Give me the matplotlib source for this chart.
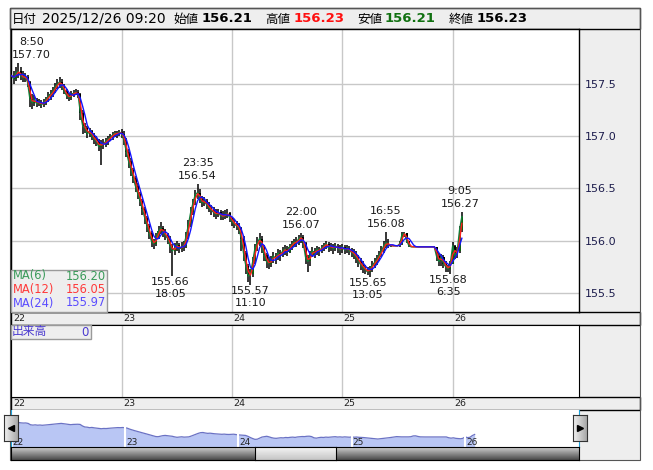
import numpy as np
import pandas as pd
import matplotlib
matplotlib.use("Agg")
import matplotlib.pyplot as plt
from matplotlib.patches import Rectangle
from matplotlib.colors import LinearSegmentedColormap
from matplotlib.transforms import blended_transform_factory

plt.rcParams['font.family'] = ['DejaVu Sans', 'Noto Sans CJK JP']

W, H = 653, 470

# ==========================
# Data: USD/JPY 30-minute bars, start 2025/12/22 07:00
# open = previous close
# ==========================
first_open = 157.60

highs = [
    # 22
    157.64, 157.62, 157.66, 157.70, 157.66, 157.62, 157.61, 157.59, 157.53, 157.40,
    157.39, 157.37, 157.36, 157.35, 157.36, 157.38, 157.42, 157.44, 157.47, 157.51,
    157.55, 157.57, 157.55, 157.50, 157.45, 157.41, 157.43, 157.44, 157.45, 157.44,
    157.41, 157.25, 157.13, 157.10, 157.08, 157.06, 157.03, 157.00, 156.97, 156.96,
    156.97, 156.98, 157.00, 157.02, 157.04, 157.05, 157.05, 157.06,
    # 23
    157.07, 157.05, 156.98, 156.88, 156.79, 156.70, 156.62, 156.55, 156.47, 156.40,
    156.32, 156.24, 156.16, 156.09, 156.02, 156.07, 156.14, 156.18, 156.14, 156.11,
    156.07, 156.04, 155.97, 155.98, 156.00, 155.98, 155.99, 156.00, 156.08, 156.20,
    156.32, 156.40, 156.48, 156.54, 156.49, 156.43, 156.42, 156.40, 156.37, 156.34,
    156.32, 156.30, 156.30, 156.29, 156.28, 156.29, 156.30, 156.27,
    # 24
    156.23, 156.21, 156.19, 156.17, 156.13, 156.04, 155.90, 155.78, 155.73, 155.84,
    155.97, 156.03, 156.07, 156.04, 155.96, 155.88, 155.84, 155.85, 155.89, 155.88,
    155.92, 155.91, 155.94, 155.96, 155.95, 155.97, 156.00, 156.02, 156.03, 156.05,
    156.07, 156.05, 155.99, 155.86, 155.90, 155.94, 155.93, 155.95, 155.94, 155.96,
    155.98, 156.00, 155.99, 155.98, 155.97, 155.98, 155.97, 155.96,
    # 25
    155.97, 155.96, 155.96, 155.95, 155.93, 155.92, 155.90, 155.86, 155.83, 155.80,
    155.77, 155.75, 155.76, 155.80, 155.83, 155.86, 155.90, 155.95, 156.00, 156.08,
    156.02, 155.96, 155.95, 155.95, 155.95, 156.00, 156.08, 156.08, 156.07, 156.00,
    155.94, 155.94, 155.94, 155.94, 155.94, 155.94, 155.94, 155.94, 155.94, 155.94,
    155.94, 155.94, 155.88, 155.87, 155.86, 155.80, 155.77, 155.80,
    # 26
    155.99, 155.96, 155.94, 156.14, 156.27,
]

lows = [
    # 22
    157.52, 157.50, 157.53, 157.56, 157.54, 157.52, 157.52, 157.47, 157.28, 157.26,
    157.29, 157.28, 157.29, 157.27, 157.28, 157.30, 157.33, 157.35, 157.38, 157.41,
    157.45, 157.46, 157.44, 157.40, 157.36, 157.34, 157.35, 157.38, 157.39, 157.37,
    157.16, 157.02, 157.03, 156.98, 156.99, 156.96, 156.93, 156.91, 156.86, 156.72,
    156.88, 156.90, 156.92, 156.95, 156.96, 156.99, 156.98, 157.00,
    # 23
    156.98, 156.92, 156.80, 156.70, 156.62, 156.55, 156.47, 156.40, 156.33, 156.25,
    156.16, 156.08, 156.02, 155.94, 155.92, 155.95, 156.02, 156.06, 156.03, 156.01,
    155.97, 155.88, 155.66, 155.86, 155.90, 155.88, 155.89, 155.90, 155.93, 156.02,
    156.13, 156.25, 156.34, 156.40, 156.36, 156.32, 156.33, 156.30, 156.27, 156.25,
    156.23, 156.21, 156.23, 156.20, 156.20, 156.21, 156.22, 156.18,
    # 24
    156.14, 156.12, 156.10, 156.06, 155.90, 155.80, 155.68, 155.60, 155.57, 155.65,
    155.78, 155.90, 155.95, 155.88, 155.80, 155.74, 155.73, 155.75, 155.79, 155.78,
    155.81, 155.80, 155.84, 155.86, 155.85, 155.88, 155.91, 155.94, 155.94, 155.96,
    155.98, 155.93, 155.78, 155.70, 155.76, 155.84, 155.83, 155.86, 155.85, 155.88,
    155.90, 155.92, 155.89, 155.90, 155.87, 155.90, 155.88, 155.86,
    # 25
    155.88, 155.87, 155.88, 155.86, 155.84, 155.82, 155.79, 155.75, 155.72, 155.69,
    155.68, 155.67, 155.65, 155.70, 155.74, 155.77, 155.80, 155.84, 155.88, 155.93,
    155.93, 155.94, 155.95, 155.95, 155.95, 155.94, 155.96, 156.03, 155.98, 155.94,
    155.94, 155.94, 155.94, 155.94, 155.94, 155.94, 155.94, 155.94, 155.94, 155.94,
    155.94, 155.80, 155.76, 155.76, 155.74, 155.70, 155.70, 155.68,
    # 26
    155.78, 155.82, 155.83, 155.88, 156.08,
]

closes = [
    # 22
    157.58, 157.55, 157.61, 157.62, 157.58, 157.56, 157.57, 157.52, 157.36, 157.32,
    157.35, 157.31, 157.33, 157.30, 157.32, 157.35, 157.38, 157.40, 157.43, 157.47,
    157.50, 157.52, 157.48, 157.43, 157.39, 157.37, 157.40, 157.41, 157.42, 157.40,
    157.22, 157.10, 157.08, 157.02, 157.05, 157.00, 156.97, 156.95, 156.90, 156.93,
    156.92, 156.95, 156.97, 156.99, 157.01, 157.03, 157.02, 157.04,
    # 23
    157.02, 156.96, 156.85, 156.76, 156.68, 156.60, 156.52, 156.45, 156.38, 156.30,
    156.22, 156.14, 156.07, 155.99, 155.97, 156.03, 156.09, 156.12, 156.08, 156.05,
    156.02, 155.95, 155.90, 155.93, 155.96, 155.92, 155.94, 155.95, 156.04, 156.15,
    156.27, 156.36, 156.44, 156.46, 156.40, 156.36, 156.38, 156.34, 156.31, 156.29,
    156.27, 156.25, 156.27, 156.24, 156.23, 156.25, 156.26, 156.22,
    # 24
    156.18, 156.16, 156.14, 156.12, 156.02, 155.88, 155.76, 155.66, 155.68, 155.80,
    155.93, 155.98, 156.02, 155.95, 155.86, 155.80, 155.78, 155.81, 155.85, 155.83,
    155.88, 155.86, 155.90, 155.92, 155.89, 155.94, 155.96, 155.99, 155.98, 156.02,
    156.03, 155.98, 155.84, 155.80, 155.86, 155.90, 155.88, 155.92, 155.90, 155.93,
    155.95, 155.97, 155.93, 155.95, 155.92, 155.95, 155.93, 155.91,
    # 25
    155.94, 155.91, 155.93, 155.90, 155.89, 155.87, 155.84, 155.80, 155.77, 155.74,
    155.72, 155.70, 155.73, 155.76, 155.79, 155.82, 155.86, 155.90, 155.95, 155.98,
    155.96, 155.95, 155.95, 155.95, 155.95, 155.97, 156.06, 156.07, 156.00, 155.95,
    155.94, 155.94, 155.94, 155.94, 155.94, 155.94, 155.94, 155.94, 155.94, 155.94,
    155.94, 155.85, 155.80, 155.84, 155.78, 155.75, 155.73, 155.78,
    # 26
    155.95, 155.86, 155.90, 156.10, 156.23,
]

day_labels = ["22", "23", "24", "25", "26"]
day_start = [0, 48, 96, 144, 192]      # bar index of 07:00 each day
price_ticks = [155.5, 156.0, 156.5, 157.0, 157.5]

ma_periods = [6, 12, 24]               # in 5-minute bars
ma_names = ["MA(6)", "MA(12)", "MA(24)"]
ma_last = ["156.20", "156.05", "155.97"]
ma_colors = ["#12803a", "#ff1e1e", "#1414ff"]
ma_text_colors = ["#3a9a5a", "#ff3a3a", "#5a4cff"]

# highs / lows marked on the chart: bar, price, time, side
peak_bar = [3, 81, 70, 104, 126, 156, 163, 191, 196]
peak_price = [157.70, 156.54, 155.66, 155.57, 156.07, 155.65, 156.08, 155.68, 156.27]
peak_time = ["8:50", "23:35", "18:05", "11:10", "22:00", "13:05", "16:55", "6:35", "9:05"]
peak_side = [1, 1, -1, -1, 1, -1, 1, -1, 1]
peak_dx = [13, 0, -2, 0, 0, -2, 0, -2, -2]   # px, keeps labels inside

header_labels = ["日付", "始値", "高値", "安値", "終値"]
header_date = "2025/12/26 09:20"
header_values = ["156.21", "156.23", "156.21", "156.23"]
header_colors = ["black", "#ff1010", "#107010", "black"]

volume_label = "出来高"
volume_value = "0"

# ==========================
# helpers (pixel layout)
# ==========================
fig = plt.figure(figsize=(W / 100, H / 100), dpi=100)
fig.patch.set_facecolor("white")


def ax_px(x0, y0, x1, y1):
    return fig.add_axes([x0 / W, 1 - y1 / H, (x1 - x0) / W, (y1 - y0) / H])


def rect_px(x0, y0, x1, y1, **kw):
    r = Rectangle((x0 / W, 1 - y1 / H), (x1 - x0) / W, (y1 - y0) / H,
                  transform=fig.transFigure, **kw)
    fig.add_artist(r)
    return r


def text_px(x, y, s, **kw):
    return fig.text(x / W, 1 - y / H, s, **kw)


def gradient(ax, c0, c1, horizontal=False):
    g = np.linspace(0, 1, 32)
    g = g.reshape(1, -1) if horizontal else g.reshape(-1, 1)
    cmap = LinearSegmentedColormap.from_list("g", [c0, c1])
    ax.imshow(g, cmap=cmap, aspect="auto", extent=[0, 1, 0, 1])
    ax.set_xticks([])
    ax.set_yticks([])


PX_BAR = 110.3 / 48
X_LEFT = -0.2
xlim = (X_LEFT, X_LEFT + 568 / PX_BAR)

# ==========================
# backgrounds / frame
# ==========================
rect_px(579, 29, 640, 460, fc="#eeeeee", ec="none", zorder=-2)
rect_px(10, 8, 640, 29, fc="#eeeeee", ec="black", lw=1, zorder=-1)
rect_px(11, 312, 640, 325, fc="#eeeeee", ec="black", lw=1, zorder=-1)
rect_px(11, 397, 640, 410, fc="#eeeeee", ec="black", lw=1, zorder=-1)
rect_px(10, 8, 640, 460, fc="none", ec="#555555", lw=0.8, zorder=-1)

# header
lab_x = [12, 173, 265, 357, 449]
val_x = [202, 294, 385, 477]
for s, x in zip(header_labels, lab_x):
    text_px(x, 19, s, fontsize=9, va="center", ha="left")
text_px(42, 19, header_date, fontsize=10, va="center", ha="left")
for s, x, c in zip(header_values, val_x, header_colors):
    text_px(x, 19, s, fontsize=9.5, fontweight="bold", color=c, va="center", ha="left")

# ==========================
# main price panel
# ==========================
n = len(closes)
idx = np.arange(n)
c = np.array(closes)
o = np.concatenate([[first_open], c[:-1]])
hi = np.array(highs)
lo = np.array(lows)

ax = ax_px(11, 29, 579, 312)
ax.set_xlim(*xlim)
ax.set_ylim(155.316, 158.027)
ax.set_xticks(day_start)
ax.set_yticks(price_ticks)
ax.grid(True, color="#c8c8c8", lw=1)
ax.set_axisbelow(True)
ax.yaxis.tick_right()
ax.tick_params(length=0, labelbottom=False, labelright=True, pad=4,
               labelsize=8, labelcolor="#1c1c4c")
ax.set_yticklabels([f"{p:.1f}" for p in price_ticks])
for sp in ax.spines.values():
    sp.set_color("black")
    sp.set_linewidth(1)

# candles
up = c >= o
ax.vlines(idx, lo, hi, colors="black", lw=1.1, zorder=2)
ax.bar(idx, np.maximum(np.abs(c - o), 0.004), bottom=np.minimum(o, c), width=0.9,
       color=np.where(up, "#0f5f0f", "black"), lw=0, zorder=2)

# moving averages (periods converted to 30-min bars)
s = pd.Series(closes)
for p, col in zip(ma_periods, ma_colors):
    w = max(1, p * 5 // 30)
    ax.plot(idx, s.rolling(w, min_periods=1).mean(), color=col, lw=1.0, zorder=3)

# high / low labels
for b, p, t, side, dx in zip(peak_bar, peak_price, peak_time, peak_side, peak_dx):
    if side > 0:
        lines = [(f"{p:.2f}", -8.5), (t, -21)]
    else:
        lines = [(f"{p:.2f}", 5.5), (t, 17.5)]
    for txt, dy in lines:
        ax.annotate(txt, xy=(b, p), xytext=(dx * 0.72, -dy * 0.72),
                    textcoords="offset points", ha="center", va="center",
                    fontsize=8, color="#1a1a1a", zorder=5, annotation_clip=False)

# MA legend box
rect_px(11, 270, 107, 312, fc="#eeeeee", ec="#9a9a9a", lw=1, zorder=2)
for k in range(3):
    y = 276 + 13.5 * k
    text_px(13, y, ma_names[k], color=ma_text_colors[k], fontsize=8.3, va="center", zorder=3)
    text_px(106, y, ma_last[k], color=ma_text_colors[k], fontsize=8.3, va="center",
            ha="right", zorder=3)

# date strips
tr = blended_transform_factory(ax.transData, fig.transFigure)
for ystrip in (318.5, 403.5):
    for d, lab in zip(day_start, day_labels):
        fig.text(d + 0.6, 1 - ystrip / H, lab, transform=tr, fontsize=6.8,
                 va="center", ha="left", color="#222222")

# ==========================
# volume panel (empty)
# ==========================
axv = ax_px(11, 325, 579, 397)
axv.set_xlim(*xlim)
axv.set_ylim(0, 1)
axv.set_xticks(day_start)
axv.set_yticks([])
axv.grid(True, axis="x", color="#c8c8c8", lw=1)
axv.tick_params(length=0, labelbottom=False)
for sp in axv.spines.values():
    sp.set_color("black")

rect_px(11, 325, 91, 339, fc="#eeeeee", ec="#9a9a9a", lw=1, zorder=2)
text_px(12, 332, volume_label, color="#4a3ad0", fontsize=8.5, va="center", zorder=3)
text_px(89, 332, volume_value, color="#4a3ad0", fontsize=8.5, va="center", ha="right", zorder=3)

# ==========================
# navigator
# ==========================
NAV_PX = 113.4 / 48
axn = ax_px(11, 410, 579, 447)
axn.set_xlim(-0.25, -0.25 + 568 / NAV_PX)
axn.set_ylim(154.77, 159.08)
axn.fill_between(idx, c, 154.77, color="#b9c6f4", lw=0)
axn.plot(idx, c, color="#6b72c4", lw=0.9)
for d, lab in zip(day_start, day_labels):
    axn.axvline(d, color="white", lw=1.5)
    axn.text(d + 0.4, 155.3, lab, fontsize=6.5, va="center", ha="left", color="#222222")
axn.set_xticks([])
axn.set_yticks([])
for k, sp in axn.spines.items():
    sp.set_color("#1ea0d8" if k in ("left", "right") else "none")

# scrollbar
axs = ax_px(11, 447, 579, 460)
gradient(axs, "#cfcfcf", "#4a4a4a")
for sp in axs.spines.values():
    sp.set_color("black")
axt = ax_px(255, 447, 336, 460)
gradient(axt, "#f6f6f6", "#c4c4c4")
for sp in axt.spines.values():
    sp.set_color("black")

# navigator buttons
for x0, mk in ((4, "<"), (573, ">")):
    axb = ax_px(x0, 415, x0 + 14, 441)
    gradient(axb, "#f2f2f2", "#a8a8a8", horizontal=True)
    axb.plot([0.5], [0.5], marker=mk, color="black", ms=4)
    axb.set_xlim(0, 1)
    axb.set_ylim(0, 1)
    for sp in axb.spines.values():
        sp.set_color("#333333")

fig.savefig("out.png", dpi=100)
